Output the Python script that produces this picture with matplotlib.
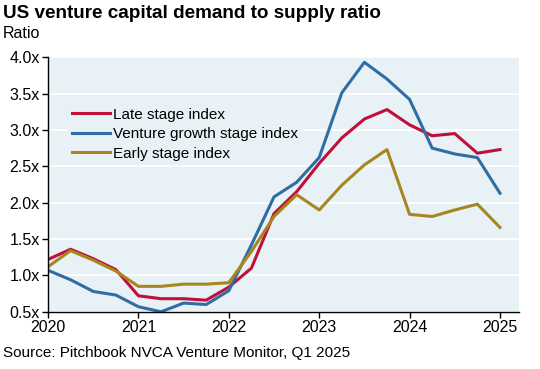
import numpy as np
import matplotlib
matplotlib.use("Agg")
import matplotlib.pyplot as plt

plt.rcParams["font.family"] = ["Liberation Sans", "DejaVu Sans"]

# quarterly observations, Q1 2020 .. Q1 2025
quarters = np.arange(2020.0, 2025.01, 0.25)
late = [1.22, 1.36, 1.23, 1.08, 0.72, 0.68, 0.68, 0.66, 0.84, 1.10, 1.85, 2.15,
        2.54, 2.89, 3.15, 3.28, 3.07, 2.92, 2.95, 2.68, 2.73]
growth = [1.07, 0.94, 0.78, 0.73, 0.57, 0.50, 0.62, 0.60, 0.79, 1.42, 2.08, 2.28,
          2.62, 3.51, 3.93, 3.70, 3.42, 2.75, 2.67, 2.62, 2.13]
early = [1.12, 1.34, 1.21, 1.06, 0.85, 0.85, 0.88, 0.88, 0.90, 1.33, 1.81, 2.11,
         1.90, 2.24, 2.52, 2.73, 1.84, 1.81, 1.90, 1.98, 1.66]
series_names = ["Late stage index", "Venture growth stage index", "Early stage index"]
yticks = [0.5, 1.0, 1.5, 2.0, 2.5, 3.0, 3.5, 4.0]
years = [2020, 2021, 2022, 2023, 2024, 2025]

bg = "#e8f1f5"

fig = plt.figure(figsize=(5.4, 3.69), dpi=100)
ax = fig.add_axes([0.089, 0.155, 0.872, 0.69])
ax.set_facecolor(bg)

lw = 2.2
ax.plot(quarters, late, c="#c0103a", lw=lw, label=series_names[0])
ax.plot(quarters, growth, c="#2f6ea5", lw=lw, label=series_names[1])
ax.plot(quarters, early, c="#a8861f", lw=lw, label=series_names[2])

ax.set_xlim(2020, 2025.21)
ax.set_ylim(0.5, 4.0)
ax.set_yticks(yticks)
ax.set_yticklabels([f"{v:.1f}x" for v in yticks])
ax.set_xticks(years)
ax.set_xticklabels([str(y) for y in years])
ax.yaxis.grid(True, color="white", lw=1.3)
ax.set_axisbelow(True)
ax.tick_params(labelsize=11.5, length=4, width=1, direction="out", pad=2)

for s in ["top", "right"]:
    ax.spines[s].set_visible(False)
for s in ["left", "bottom"]:
    ax.spines[s].set_color("black")
    ax.spines[s].set_linewidth(1)

leg = ax.legend(loc="upper left", bbox_to_anchor=(0.041, 0.82), fontsize=11,
                handlelength=2.5, handletextpad=0.2, labelspacing=0.36,
                frameon=True, borderpad=0.3, borderaxespad=0)
leg.get_frame().set_facecolor(bg)
leg.get_frame().set_edgecolor("none")
leg.get_frame().set_alpha(1)

fig.text(0.006, 0.952, "US venture capital demand to supply ratio", fontsize=13.6,
         fontweight="bold", ha="left", va="baseline")
fig.text(0.006, 0.897, "Ratio", fontsize=11.5, ha="left", va="baseline")
fig.text(0.006, 0.032, "Source: Pitchbook NVCA Venture Monitor, Q1 2025", fontsize=11,
         ha="left", va="baseline")

plt.savefig("out.png", dpi=100)
plt.close()
